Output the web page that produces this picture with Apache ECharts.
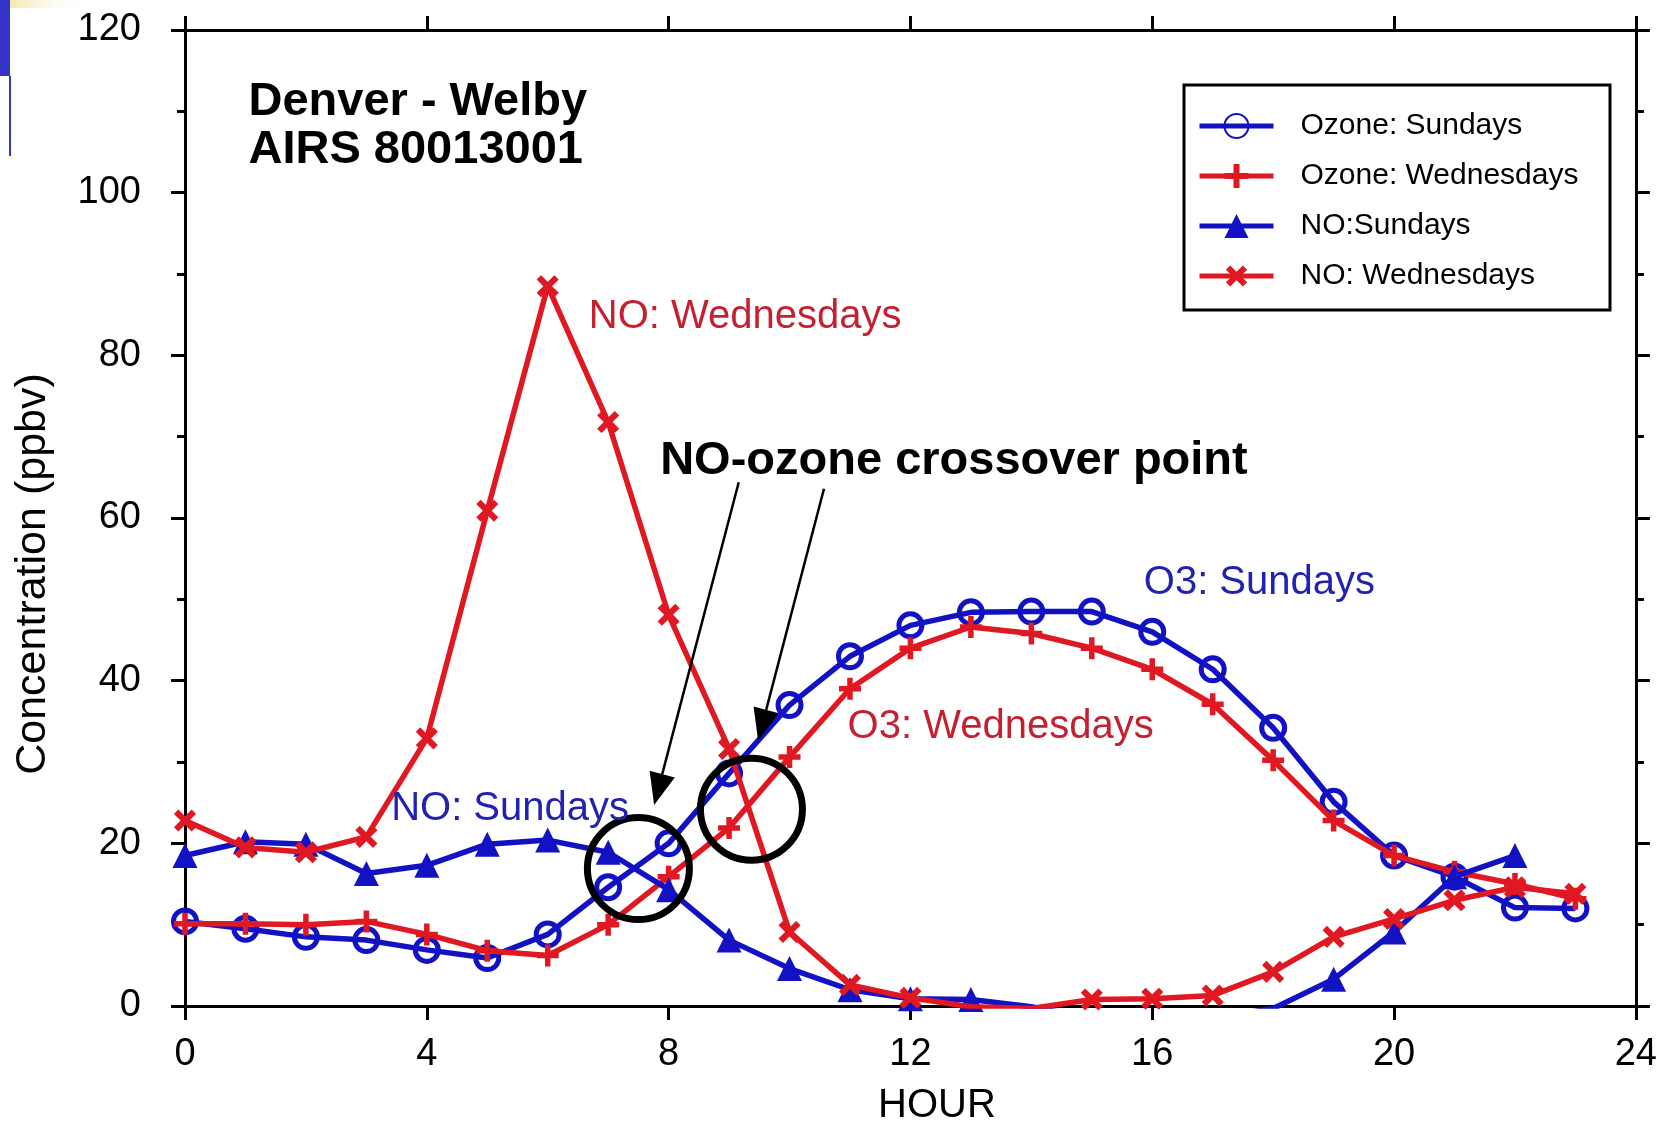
<!DOCTYPE html>
<html>
<head>
<meta charset="utf-8">
<script src="https://cdn.jsdelivr.net/npm/echarts@6/dist/echarts.min.js"></script>
<style>
html,body{margin:0;padding:0;background:#fff;}
#c{width:1660px;height:1123px;}
</style>
</head>
<body>
<div id="c"></div>
<script>
// ---- data (hour of day, concentration in ppbv) ----
const hours = [0,1,2,3,4,5,6,7,8,9,10,11,12,13,14,15,16,17,18,19,20,21,22,23];
const ozoneSundays    = [10.4,9.5,8.5,8.1,6.9,5.9,8.8,14.6,20.0,28.6,37.0,43.0,46.8,48.4,48.5,48.5,46.0,41.4,34.2,25.1,18.5,15.9,12.1,12.0];
const ozoneWednesdays = [10.1,10.1,10.0,10.4,8.8,6.8,6.2,10.0,15.9,21.9,30.6,39.0,44.0,46.6,45.8,44.0,41.4,37.1,30.2,22.8,18.5,16.5,15.0,13.2];
const noSundays       = [18.5,20.2,19.9,16.3,17.3,19.9,20.4,18.9,14.3,8.1,4.6,2.0,0.9,0.8,-0.1,-1.5,-1.5,-1.5,-0.3,3.3,9.1,15.9,18.5];
const noWednesdays    = [22.8,19.5,18.9,20.8,32.9,60.9,88.5,71.8,48.1,31.6,9.1,2.6,1.0,-0.1,-0.3,0.8,0.9,1.3,4.2,8.5,10.7,13.0,14.6,13.8];
const seriesNames = ['Ozone: Sundays','Ozone: Wednesdays','NO:Sundays','NO: Wednesdays'];
const xTicks = [0,4,8,12,16,20,24];
const yTicks = [0,20,40,60,80,100,120];

const BLUE = '#1212c4';
const RED = '#e01822';
const FONT = 'Liberation Sans, Arial, sans-serif';
const PLUS = 'path://M7.5,0h5v7.5h7.5v5h-7.5v7.5h-5v-7.5h-7.5v-5h7.5z';

function pairs(vals){ return vals.map((v,i)=>[hours[i], v]); }

const chart = echarts.init(document.getElementById('c'), null, {renderer:'canvas'});

function axisBase(){
  return {
    type:'value',
    axisLine:{show:true, onZero:false, lineStyle:{color:'#000', width:3}},
    axisTick:{show:true, inside:false, length:14, lineStyle:{color:'#000', width:3}},
    splitLine:{show:false}
  };
}

const option = {
  animation:false,
  backgroundColor:'#fff',
  grid:{left:185, right:19, top:30, bottom:117, containLabel:false},
  xAxis:[
    Object.assign(axisBase(), {
      position:'bottom', min:xTicks[0], max:xTicks[xTicks.length-1], interval:4,
      axisLabel:{show:true, fontSize:38, color:'#000', fontFamily:FONT, margin:30}
    }),
    Object.assign(axisBase(), {
      position:'top', min:xTicks[0], max:xTicks[xTicks.length-1], interval:4,
      axisLabel:{show:false}
    })
  ],
  yAxis:[
    Object.assign(axisBase(), {
      position:'left', min:yTicks[0], max:yTicks[yTicks.length-1], interval:20,
      minorTick:{show:true, splitNumber:2, length:8, lineStyle:{color:'#000', width:3}},
      axisLabel:{show:true, fontSize:38, color:'#000', fontFamily:FONT, margin:44}
    }),
    Object.assign(axisBase(), {
      position:'right', min:yTicks[0], max:yTicks[yTicks.length-1], interval:20,
      minorTick:{show:true, splitNumber:2, length:8, lineStyle:{color:'#000', width:3}},
      axisLabel:{show:false}
    })
  ],
  legend:{
    show:true, orient:'vertical', left:1197, top:109, padding:0,
    itemWidth:74, itemHeight:30, itemGap:16,
    lineStyle:{width:5},
    textStyle:{fontSize:30, color:'#000', fontFamily:FONT, padding:[0,0,0,22], lineHeight:34},
    data:seriesNames
  },
  series:[
    {
      name:seriesNames[0], type:'line', data:pairs(ozoneSundays),
      symbol:'circle', symbolSize:23,
      lineStyle:{color:BLUE, width:5.5}, color:BLUE,
      itemStyle:{color:'rgba(255,255,255,0)', borderColor:BLUE, borderWidth:5},
      z:2
    },
    {
      name:seriesNames[1], type:'line', data:pairs(ozoneWednesdays),
      symbol:PLUS, symbolSize:22,
      lineStyle:{color:RED, width:5.5}, color:RED,
      itemStyle:{color:RED},
      z:3
    },
    {
      name:seriesNames[2], type:'line', data:pairs(noSundays),
      symbol:'triangle', symbolSize:25,
      lineStyle:{color:BLUE, width:5.5}, color:BLUE,
      itemStyle:{color:BLUE},
      z:4
    },
    {
      name:seriesNames[3], type:'line', data:pairs(noWednesdays),
      symbol:PLUS, symbolSize:25, symbolRotate:45,
      lineStyle:{color:RED, width:5.5}, color:RED,
      itemStyle:{color:RED},
      z:5
    }
  ]
};
chart.setOption(option);

// ---- annotations placed in data coordinates ----
function P(h, v){ return chart.convertToPixel({xAxisIndex:0, yAxisIndex:0}, [h, v]); }

function label(text, h, v, color, size, bold){
  const p = P(h, v);
  return {type:'text', x:p[0], y:p[1], z:50, style:{
    text:text, fill:color, fontSize:size, fontWeight:bold?'bold':'normal',
    fontFamily:FONT, align:'left', verticalAlign:'middle'}};
}
function ring(h, v, r){
  const p = P(h, v);
  return {type:'circle', z:40, shape:{cx:p[0], cy:p[1], r:r},
    style:{fill:'none', stroke:'#000', lineWidth:7}};
}
function arrow(h1, v1, h2, v2){
  const a = P(h1, v1), b = P(h2, v2);
  const dx = b[0]-a[0], dy = b[1]-a[1];
  const L = Math.sqrt(dx*dx+dy*dy), ux = dx/L, uy = dy/L;
  const head = 32, half = 13;
  const bx = b[0]-ux*head, by = b[1]-uy*head;
  return [
    {type:'line', z:45, shape:{x1:a[0], y1:a[1], x2:bx, y2:by}, style:{stroke:'#000', lineWidth:2.5}},
    {type:'polygon', z:45, shape:{points:[[b[0],b[1]],[bx-uy*half, by+ux*half],[bx+uy*half, by-ux*half]]},
      style:{fill:'#000'}}
  ];
}

const graphics = [
  // slide decoration at top-left corner
  {type:'rect', z:1, shape:{x:0, y:0, width:10, height:76}, style:{fill:'#3434c8'}},
  {type:'rect', z:1, shape:{x:9, y:76, width:2, height:80}, style:{fill:'#3434c8'}},
  {type:'rect', z:1, shape:{x:10, y:0, width:80, height:8},
    style:{fill:new echarts.graphic.LinearGradient(0,0,1,0,[{offset:0,color:'#f4e8b0'},{offset:1,color:'rgba(255,255,255,0)'}])}},
  // legend frame
  {type:'rect', z:30, shape:{x:1184, y:85, width:426, height:225}, style:{fill:'none', stroke:'#000', lineWidth:3}},
  // axis titles
  {type:'text', x:33, y:574, rotation:Math.PI/2, z:20, style:{text:'Concentration (ppbv)', fill:'#000', fontSize:43,
    fontFamily:FONT, align:'center', verticalAlign:'middle'}},
  {type:'text', x:937, y:1106, z:20, style:{text:'HOUR', fill:'#000', fontSize:40,
    fontFamily:FONT, align:'center', verticalAlign:'middle'}},
  label('Denver - Welby', 1.05, 111.2, '#000', 47, true),
  label('AIRS 80013001', 1.05, 105.2, '#000', 47, true),
  label('NO: Wednesdays', 6.68, 84.7, '#c42030', 40, false),
  label('NO-ozone crossover point', 7.86, 67.0, '#000', 47, true),
  label('O3: Sundays', 15.86, 52.0, '#2222b0', 40, false),
  label('O3: Wednesdays', 10.96, 34.3, '#c42030', 40, false),
  label('NO: Sundays', 3.41, 24.2, '#2222b0', 40, false),
  ring(7.5, 16.9, 51),
  ring(9.37, 24.2, 51)
].concat(arrow(9.16, 64.4, 7.76, 24.7)).concat(arrow(10.57, 63.6, 9.48, 32.6));

chart.setOption({graphic:graphics});
</script>
</body>
</html>
